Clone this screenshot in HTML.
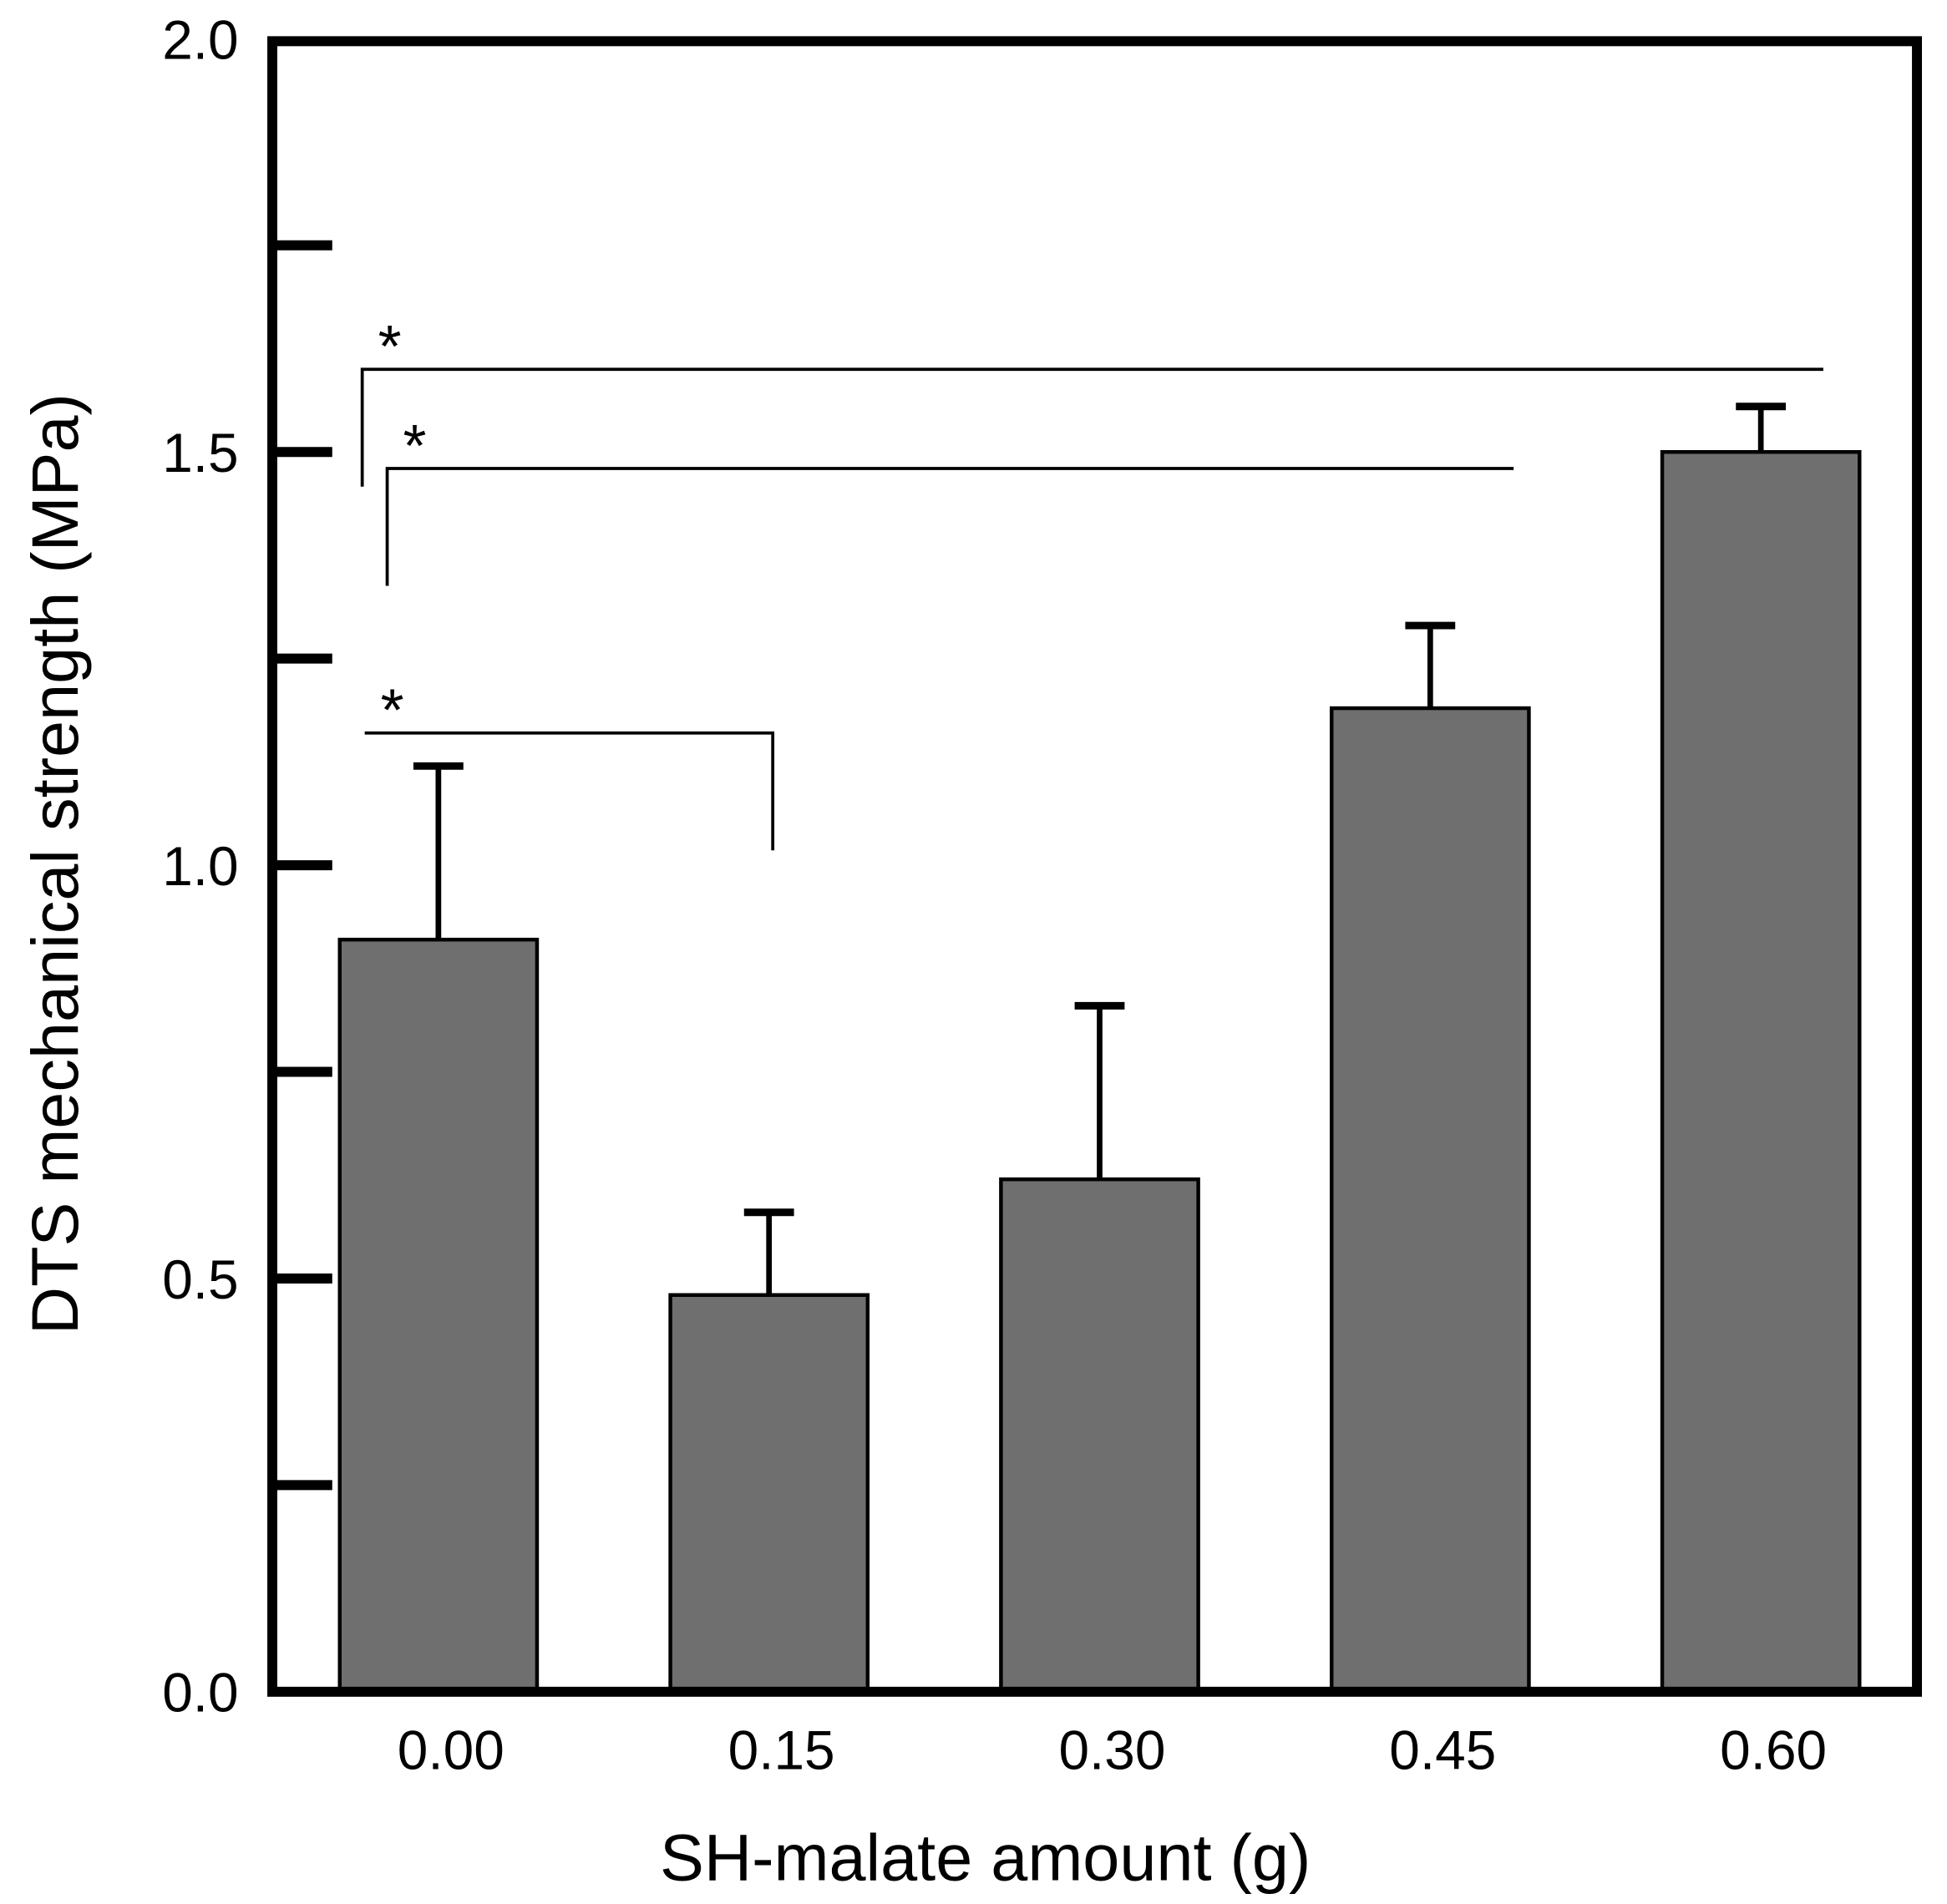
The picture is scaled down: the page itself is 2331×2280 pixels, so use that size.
<!DOCTYPE html>
<html><head><meta charset="utf-8"><style>
html,body{margin:0;padding:0;background:#fff;}
svg{display:block;font-family:"Liberation Sans",Arial,sans-serif;}
</style></head><body>
<svg id="chart" width="2331" height="2280" viewBox="0 0 1559 1525" xmlns="http://www.w3.org/2000/svg">
<rect x="0" y="0" width="1559" height="1525" fill="#fff"/>
<g id="bars"></g>
<g id="axes"></g>
<g id="sig"></g>
<text x="789" y="1506" font-size="53" text-anchor="middle">SH-malate amount (g)</text>
<text transform="translate(62,692) rotate(-90)" font-size="53" text-anchor="middle">DTS mechanical strength (MPa)</text>
</svg>
<script>
const categories = ["0.00","0.15","0.30","0.45","0.60"];
const values = [0.91, 0.48, 0.62, 1.19, 1.50];
const errors = [0.21, 0.10, 0.21, 0.10, 0.055];
const yTickValues = [0, 0.25, 0.5, 0.75, 1.0, 1.25, 1.5, 1.75, 2.0];
const yTickLabels = ["0.0","","0.5","","1.0","","1.5","","2.0"];
const sigFrom = [0, 0, 0];
const sigTo = [4, 3, 1];
const sigLevel = [1.60, 1.48, 1.16];

const NS = "http://www.w3.org/2000/svg";
const X0 = 218, X1 = 1535, Y0 = 1355, Y1 = 33;
function yScale(v){ return Y0 - v * (Y0 - 31) / 2.0; }
function xScale(i){ return 351 + i * 264.75; }
const BW = 158;
function mk(tag, attrs, parent){
  const e = document.createElementNS(NS, tag);
  for (const k in attrs) e.setAttribute(k, attrs[k]);
  parent.appendChild(e);
  return e;
}
const gb = document.getElementById('bars');
const ga = document.getElementById('axes');
const gs = document.getElementById('sig');

categories.forEach((c, i) => {
  const cx = xScale(i), top = yScale(values[i]), et = yScale(values[i] + errors[i]);
  const st = mk('line', {x1:cx, x2:cx, y1:top, y2:et, stroke:'#000', 'stroke-width':4.5}, gb);
  
  
  const cap = mk('line', {x1:cx-20, x2:cx+20, y1:et, y2:et, stroke:'#000', 'stroke-width':6}, gb);
  
  
  const r = mk('rect', {x:cx-BW/2, y:top, width:BW, height:Y0-top, fill:'#6f6f6f', stroke:'#000', 'stroke-width':3}, gb);
  
  
  const t = mk('text', {x:cx+10, y:1417, 'font-size':44, 'text-anchor':'middle'}, ga);
  t.textContent = c;
  
  
});

const frame = mk('rect', {x:X0, y:Y1, width:X1-X0, height:Y0-Y1, fill:'none', stroke:'#000', 'stroke-width':8}, ga);



yTickValues.forEach((v, i) => {
  const y = yScale(v);
  if (v > 0 && v < 2) {
    const tk = mk('line', {x1:X0, x2:266, y1:y, y2:y, stroke:'#000', 'stroke-width':8}, ga);
    
    
  }
  if (yTickLabels[i]) {
    const t = mk('text', {x:191, y:y+16, 'font-size':44, 'text-anchor':'end'}, ga);
    t.textContent = yTickLabels[i];
    
    
  }
});

const bx = [290, 310, 292];
sigFrom.forEach((f, k) => {
  const y = yScale(sigLevel[k]);
  let d;
  if (k < 2) {
    const xr = k === 0 ? 1460 : 1212;
    d = `M${bx[k]},${y+94} L${bx[k]},${y} L${xr},${y}`;
  } else {
    const xr = xScale(sigTo[k]) + 3;
    d = `M${bx[k]},${y} L${xr},${y} L${xr},${y+94}`;
  }
  const p = mk('path', {d:d, fill:'none', stroke:'#000', 'stroke-width':2.5}, gs);
  
  
  const s = mk('text', {x:bx[k]+22, y:y-2, 'font-size':48, 'text-anchor':'middle'}, gs);
  s.textContent = '*';
  
  
});
</script>
</body></html>
